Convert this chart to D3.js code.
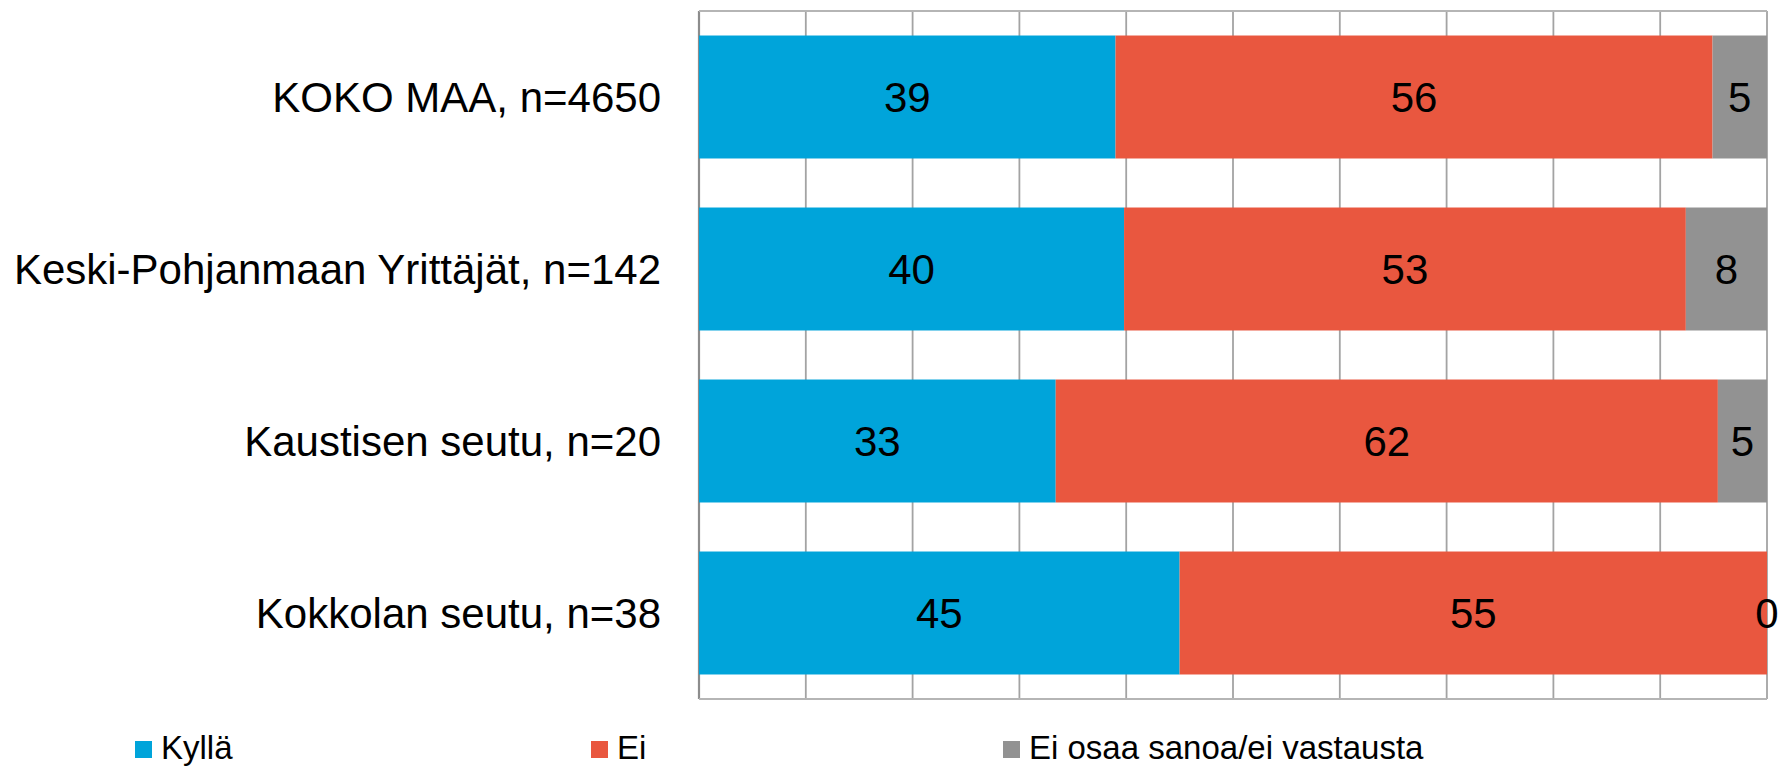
<!DOCTYPE html>
<html>
<head>
<meta charset="utf-8">
<script src="https://cdn.jsdelivr.net/npm/d3@7"></script>
<style>
  body { margin: 0; background: #fff; }
  svg { display: block; font-family: 'Liberation Sans', Arial, sans-serif; }
</style>
</head>
<body>
<div id="chart"></div>
<script>

// Categories (top to bottom)
const categories = [
  'KOKO MAA, n=4650',
  'Keski-Pohjanmaan Yrittäjät, n=142',
  'Kaustisen seutu, n=20',
  'Kokkolan seutu, n=38'
]

// Series
const series_names = ['Kyllä', 'Ei', 'Ei osaa sanoa/ei vastausta']
const series_colors = ['#00a4da', '#e9573f', '#929292']

const kylla = [39.0, 39.8, 33.4, 45.0]
const ei = [55.9, 52.6, 62.0, 55.0]
const eos = [5.1, 7.6, 4.6, 0.0]

const x_ticks = [0, 10, 20, 30, 40, 50, 60, 70, 80, 90, 100]

// Layout
const W = 1780, H = 767
const plot = { left: 699, right: 1767, top: 11, bottom: 699 }
const legend_x = [135, 591, 1003]
const legend_y = 739

let svg = d3.select('#chart')
  .append('svg')
  .attr('width', W)
  .attr('height', H)

let x = d3.scaleLinear()
  .domain([0, 100])
  .range([plot.left, plot.right])

let y = d3.scaleBand()
  .domain(categories)
  .range([plot.top, plot.bottom])
  .paddingInner(0.285)
  .paddingOuter(0.1425)

// Build stacked rows
let rows = categories.map((c, i) => ({
  cat: c, 'Kyllä': kylla[i], 'Ei': ei[i], 'Ei osaa sanoa/ei vastausta': eos[i]
}))
let stacked = d3.stack().keys(series_names)(rows)

// Gridlines
svg.append('g')
  .selectAll('line')
  .data(x_ticks)
  .enter()
  .append('line')
    .attr('x1', d => x(d))
    .attr('x2', d => x(d))
    .attr('y1', plot.top)
    .attr('y2', plot.bottom)
    .attr('stroke', d => d === 0 ? '#8c8c8c' : '#a3a3a3')
    .attr('stroke-width', d => d === 0 ? 2.2 : 1.8)

// Top and bottom border
svg.append('g')
  .selectAll('line')
  .data([plot.top, plot.bottom])
  .enter()
  .append('line')
    .attr('x1', plot.left)
    .attr('x2', plot.right)
    .attr('y1', d => d)
    .attr('y2', d => d)
    .attr('stroke', '#b5b5b5')
    .attr('stroke-width', 1.8)

// Bars
let layers = svg.append('g')
  .selectAll('g')
  .data(stacked)
  .enter()
  .append('g')
    .attr('fill', (d, i) => series_colors[i])

layers.selectAll('rect')
  .data(d => d)
  .enter()
  .append('rect')
    .attr('x', d => x(d[0]))
    .attr('y', d => y(d.data.cat))
    .attr('width', d => x(d[1]) - x(d[0]))
    .attr('height', y.bandwidth())

// Value labels
layers.selectAll('text')
  .data(d => d)
  .enter()
  .append('text')
    .attr('x', d => (x(d[0]) + x(d[1])) / 2)
    .attr('y', d => y(d.data.cat) + y.bandwidth() / 2)
    .attr('dy', '0.36em')
    .attr('text-anchor', 'middle')
    .attr('fill', '#000')
    .style('font-size', '42px')
    .text(d => Math.round(d[1] - d[0]))

// Category labels
svg.append('g')
  .selectAll('text')
  .data(categories)
  .enter()
  .append('text')
    .attr('x', plot.left - 38)
    .attr('y', d => y(d) + y.bandwidth() / 2)
    .attr('dy', '0.36em')
    .attr('text-anchor', 'end')
    .attr('fill', '#000')
    .style('font-size', '42px')
    .text(d => d)

// Legend
let legend = svg.append('g')
  .selectAll('g')
  .data(series_names)
  .enter()
  .append('g')
    .attr('transform', (d, i) => `translate(${legend_x[i]}, ${legend_y})`)

legend.append('rect')
  .attr('y', 2)
  .attr('width', 17)
  .attr('height', 17)
  .attr('fill', (d, i) => series_colors[i])

legend.append('text')
  .attr('x', 26)
  .attr('y', 20)
  .attr('fill', '#000')
  .style('font-size', '33px')
  .text(d => d)

</script>
</body>
</html>
